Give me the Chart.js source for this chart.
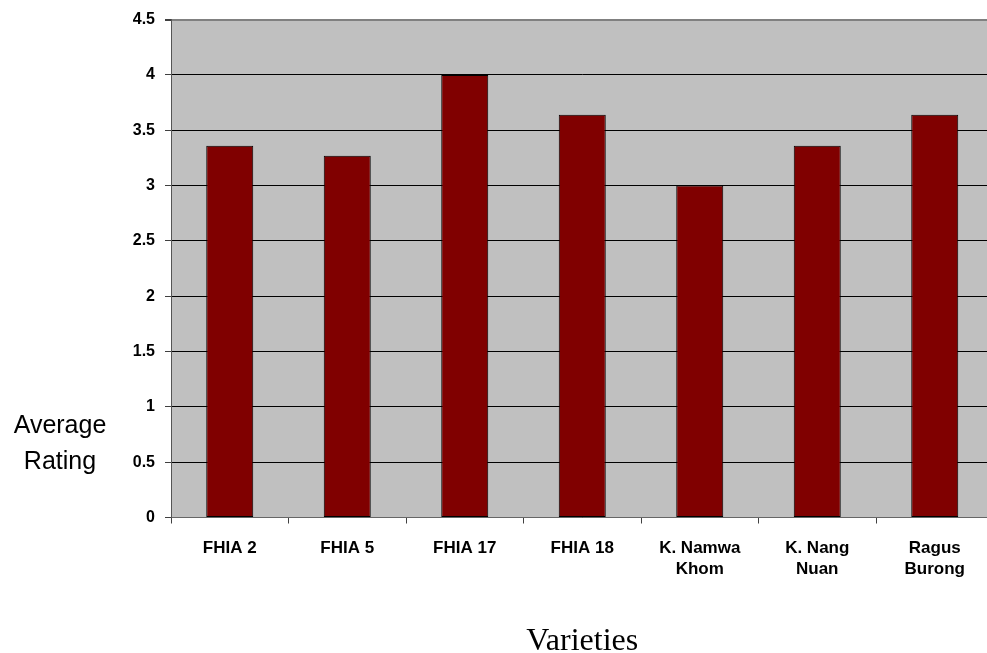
<!DOCTYPE html>
<html>
<head>
<meta charset="utf-8">
<script src="https://cdn.jsdelivr.net/npm/chart.js@4.4.1/dist/chart.umd.min.js"></script>
<style>
  html, body { margin: 0; padding: 0; background: #fff; overflow: hidden; }
  #wrap { position: relative; width: 1000px; height: 653px; }
</style>
</head>
<body>
<div id="wrap"><canvas id="c"></canvas></div>
<script>
// Banana varieties and their average rating
const varieties = ['FHIA 2', 'FHIA 5', 'FHIA 17', 'FHIA 18', ['K. Namwa', 'Khom'], ['K. Nang', 'Nuan'], ['Ragus', 'Burong']];
const averageRating = [3.36, 3.27, 4.0, 3.64, 3.0, 3.36, 3.64];
const yTicks = [0, 0.5, 1, 1.5, 2, 2.5, 3, 3.5, 4, 4.5];
const yAxisTitle = ['Average', 'Rating'];
const xAxisTitle = 'Varieties';

const SANS = "'Liberation Sans', Arial, sans-serif";
const SERIF = "'Liberation Serif', 'Times New Roman', serif";

// Grey plot-area fill plus the free-standing axis titles
const plotDecor = {
  id: 'plotDecor',
  beforeDraw(chart) {
    const { ctx, chartArea: a } = chart;
    ctx.save();
    ctx.fillStyle = '#c0c0c0';
    ctx.fillRect(a.left, a.top, a.right - a.left, a.bottom - a.top);
    ctx.restore();
  },
  afterDraw(chart) {
    const { ctx, chartArea: a } = chart;
    ctx.save();
    ctx.fillStyle = '#000';
    ctx.textAlign = 'center';
    ctx.textBaseline = 'alphabetic';
    ctx.font = '25px ' + SANS;
    ctx.fillText(yAxisTitle[0], 60, 433);
    ctx.fillText(yAxisTitle[1], 60, 469);
    ctx.font = '32px ' + SERIF;
    ctx.fillText(xAxisTitle, (a.left + a.right) / 2, 650);
    ctx.restore();
  }
};

new Chart(document.getElementById('c'), {
  type: 'bar',
  data: {
    labels: varieties,
    datasets: [{
      data: averageRating,
      backgroundColor: '#800000',
      borderColor: '#000000',
      borderWidth: 1,
      borderSkipped: false,
      barPercentage: 0.4,
      categoryPercentage: 1.0
    }]
  },
  options: {
    responsive: true,
    maintainAspectRatio: false,
    animation: false,
    layout: { padding: { top: 18, right: 6.5, left: 0, bottom: 0 } },
    plugins: { legend: { display: false }, tooltip: { enabled: false } },
    scales: {
      x: {
        grid: { display: true, drawOnChartArea: false, drawTicks: true, tickLength: 6, tickColor: '#404040', offset: true },
        border: { display: true, color: '#666', width: 1 },
        ticks: {
          color: '#000',
          font: { family: SANS, size: 17, weight: 'bold', lineHeight: 1.25 },
          padding: 14,
          maxRotation: 0,
          autoSkip: false
        },
        afterFit(scale) { scale.height = 135.5; }
      },
      y: {
        min: 0,
        max: 4.5,
        afterBuildTicks(scale) { scale.ticks = yTicks.map(v => ({ value: v })); },
        grid: {
          color: (c) => (c.tick && c.tick.value === 4.5) ? '#808080' : '#000',
          lineWidth: (c) => (c.tick && c.tick.value === 4.5) ? 2 : 1,
          drawTicks: true,
          tickLength: 6,
          tickColor: '#404040'
        },
        border: { display: true, color: '#555', width: 1 },
        ticks: {
          color: '#000',
          font: { family: SANS, size: 16, weight: 'bold' },
          padding: 10,
          callback: (v) => String(v)
        },
        afterFit(scale) { scale.width = 171; }
      }
    }
  },
  plugins: [plotDecor]
});
</script>
</body>
</html>
